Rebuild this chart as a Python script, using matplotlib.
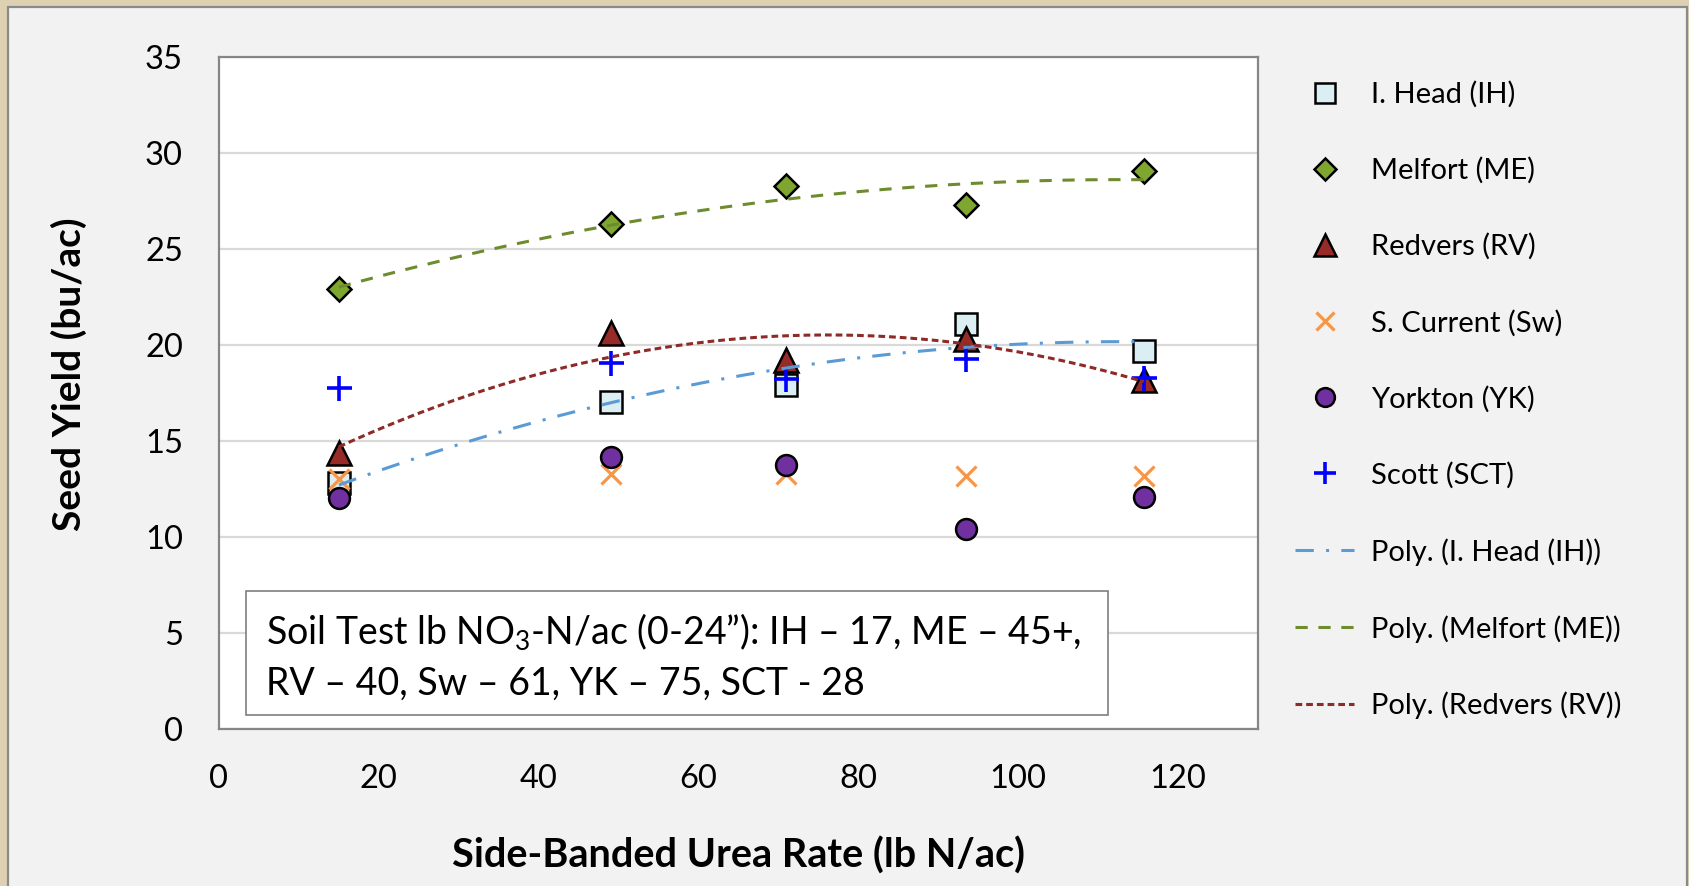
import numpy as np
import matplotlib
matplotlib.use("Agg")
import matplotlib.pyplot as plt
from matplotlib.patches import Rectangle

plt.rcParams['font.family'] = ['Lato', 'DejaVu Sans']
plt.rcParams['mathtext.fontset'] = 'custom'
plt.rcParams['mathtext.rm'] = 'Lato'
plt.rcParams['mathtext.default'] = 'regular'

# data
rate = [15, 49, 71, 93.5, 115.7]
ih = [12.8, 17.05, 17.9, 21.1, 19.7]
me = [22.9, 26.3, 28.3, 27.3, 29.05]
rv = [14.4, 20.6, 19.2, 20.3, 18.2]
sw = [13.0, 13.3, 13.3, 13.2, 13.2]
yk = [12.05, 14.15, 13.75, 10.4, 12.1]
sct = [17.75, 19.05, 18.25, 19.25, 18.3]

W, H = 1689, 886
fig = plt.figure(figsize=(W / 100, H / 100), dpi=100)
fig.patch.set_facecolor('#DED1B2')
# chart area panel
fig.add_artist(Rectangle((8 / W, -0.05), 1679 / W, 1.05 - 7 / H, transform=fig.transFigure,
                         facecolor='#F2F2F2', edgecolor='#8A8A8A', lw=1.6, zorder=0))

ax = fig.add_axes([219 / W, 1 - 729 / H, (1258 - 219) / W, (729 - 57) / H])
ax.set_facecolor('white')
ax.set_xlim(0, 130)
ax.set_ylim(0, 35)
ax.set_xticks(range(0, 121, 20))
ax.set_yticks(range(0, 36, 5))
ax.grid(axis='y', color='#D9D9D9', lw=1.6, zorder=0)
ax.set_axisbelow(True)
for s in ax.spines.values():
    s.set_color('#868686')
    s.set_linewidth(1.6)
ax.tick_params(length=0, labelsize=23.5)
ax.tick_params(axis='x', pad=25)
ax.tick_params(axis='y', pad=26)
ax.set_xlabel('Side-Banded Urea Rate (lb N/ac)', fontsize=28.5, fontweight='bold', labelpad=31)
ax.set_ylabel('Seed Yield (bu/ac)', fontsize=28, fontweight='bold', labelpad=42)
ax.yaxis.label.set_y(0.528)

ek = dict(linestyle='none', markeredgecolor='black', markeredgewidth=1.8, zorder=3)
ax.plot(rate, ih, marker='s', markersize=15.5, markerfacecolor='#DAEEF3', label='I. Head (IH)', **ek)
ax.plot(rate, me, marker='D', markersize=12.5, markerfacecolor='#7FA72F', label='Melfort (ME)', **ek)
ax.plot(rate, rv, marker='^', markersize=17, markerfacecolor='#972B27', label='Redvers (RV)', **ek)
ax.plot(rate, sw, marker='x', markersize=15, linestyle='none', color='#F79646', markeredgewidth=2.3,
        zorder=3, label='S. Current (Sw)')
ax.plot(rate, yk, marker='o', markersize=15, markerfacecolor='#7030A0', label='Yorkton (YK)', **ek)
ax.plot(rate, sct, marker='+', markersize=18, linestyle='none', color='#0000FF', markeredgewidth=2.6,
        zorder=3, label='Scott (SCT)')

# second order polynomial trendlines, as in the spreadsheet
xs = np.linspace(rate[0], rate[-1], 200)
trends = [(ih, '#5B9BD5', (0, (6, 4, 1, 4)), 'Poly. (I. Head (IH))'),
          (me, '#6E8B2E', (0, (4, 3.5)), 'Poly. (Melfort (ME))'),
          (rv, '#8E2A28', (0, (2.2, 1.3)), 'Poly. (Redvers (RV))')]
for ys, c, ls, lab in trends:
    p = np.polyfit(rate, ys, 2)
    ax.plot(xs, np.polyval(p, xs), color=c, linestyle=ls, lw=2.2, zorder=4, label=lab)

# soil test note
ax.add_patch(Rectangle((0.0256, 0.0208), 0.83, 0.1846, transform=ax.transAxes,
                       facecolor='white', edgecolor='#7F7F7F', lw=1.2, zorder=5))
ax.text(0.0452, 0.1265, 'Soil Test lb NO$_3$-N/ac (0-24\u201d): IH \u2013 17, ME \u2013 45+,',
        transform=ax.transAxes, fontsize=27, va='baseline', zorder=6)
ax.text(0.0452, 0.0506, 'RV \u2013 40, Sw \u2013 61, YK \u2013 75, SCT - 28',
        transform=ax.transAxes, fontsize=27, va='baseline', zorder=6)

handles, labels = ax.get_legend_handles_labels()
fig.legend(handles, labels, loc='upper left', bbox_to_anchor=(1295 / W, 1 - 81 / H),
           frameon=False, fontsize=21, labelspacing=1.69, handlelength=2.03,
           handletextpad=0.59, borderpad=0, borderaxespad=0, markerscale=0.9)

fig.savefig('out.png', dpi=100, facecolor=fig.get_facecolor())
